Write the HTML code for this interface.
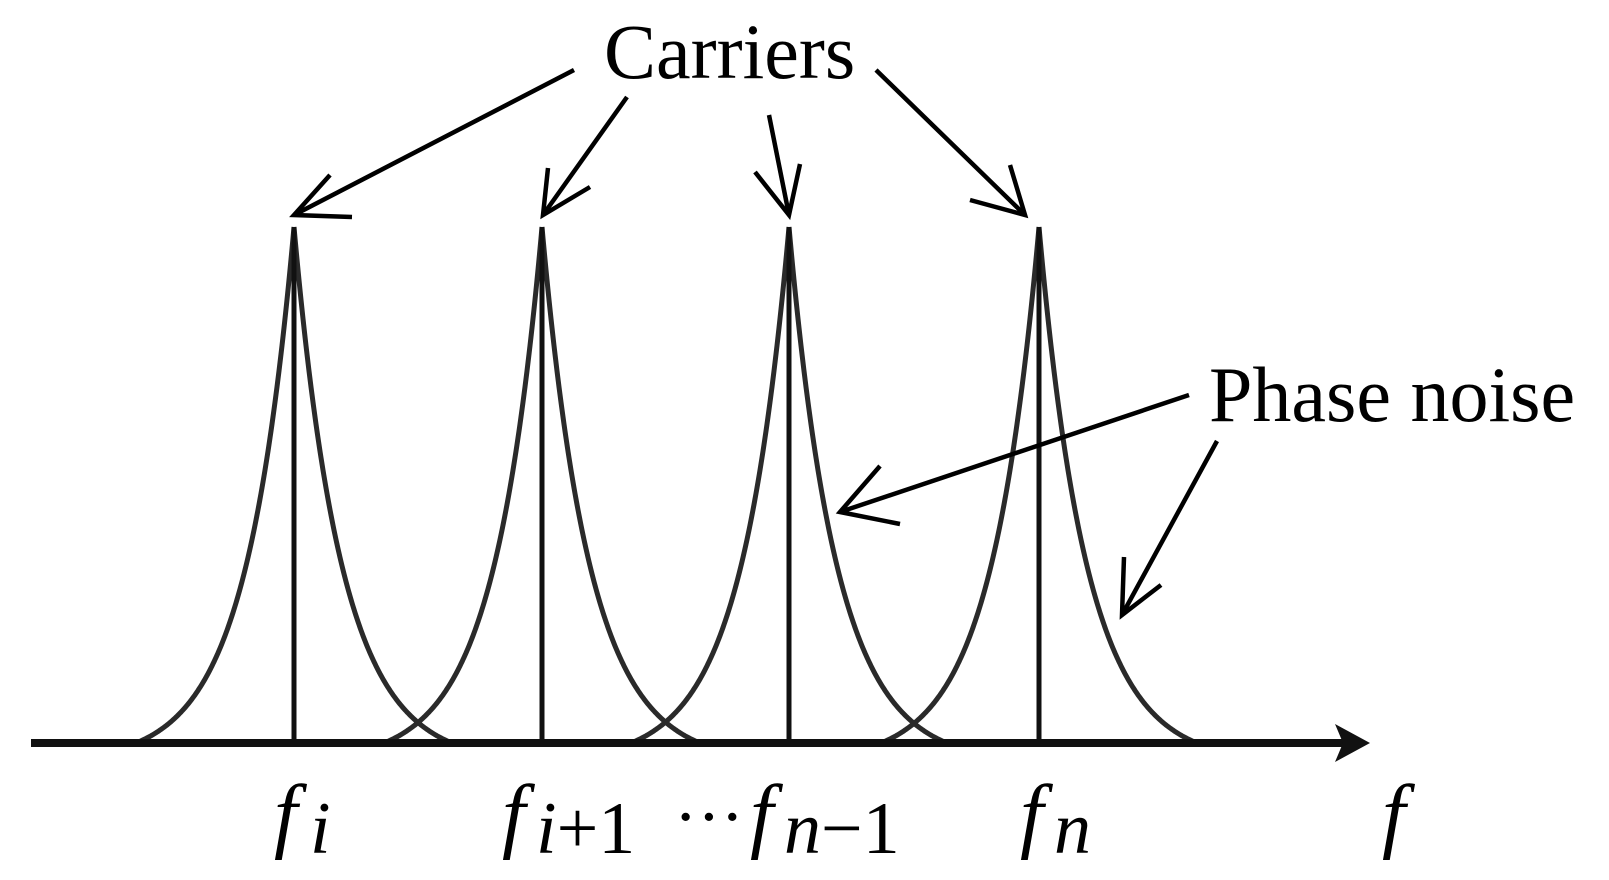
<!DOCTYPE html>
<html><head><meta charset="utf-8"><style>
html,body{margin:0;padding:0;background:#fff;}
svg{display:block}
text{font-family:"Liberation Serif",serif;fill:#000}
</style></head><body>
<svg id="s" width="1609" height="880" viewBox="0 0 1609 880" xmlns="http://www.w3.org/2000/svg">
<g id="curves" fill="none" stroke="#2a2a2a" stroke-width="5"></g>
<g stroke="#111" stroke-width="5">
<line x1="294" y1="227" x2="294" y2="743"/>
<line x1="542" y1="227" x2="542" y2="743"/>
<line x1="789" y1="227" x2="789" y2="743"/>
<line x1="1039" y1="227" x2="1039" y2="743"/>
</g>
<line x1="31" y1="743" x2="1350" y2="743" stroke="#111" stroke-width="8"/>
<polygon points="1370,743 1335,724 1343,743 1335,762" fill="#111"/>
<g stroke="#000" stroke-width="4.5" fill="none" stroke-linecap="butt">
<line x1="574" y1="70" x2="294" y2="215"/><polyline points="330,175 294,215 352,217"/>
<line x1="627" y1="97" x2="543" y2="215"/><polyline points="548,168 543,215 590,187"/>
<line x1="769" y1="115" x2="789" y2="215"/><polyline points="755,172 789,215 800,164"/>
<line x1="876" y1="70" x2="1025" y2="215"/><polyline points="970,200 1025,215 1010,165"/>
<line x1="1189" y1="395" x2="840" y2="512"/><polyline points="880,466 840,512 900,524"/>
<line x1="1217" y1="441" x2="1122" y2="615"/><polyline points="1124,557 1122,615 1161,585"/>
</g>
<text x="604" y="78" font-size="78">Carriers</text>
<text x="1209" y="421" font-size="78">Phase noise</text>
<g font-size="84">
<text x="274" y="842" font-style="italic">f</text><text x="310" y="853" font-size="74" font-style="italic">i</text>
<text x="502" y="842" font-style="italic">f</text><text x="536" y="853" font-size="74"><tspan font-style="italic">i</tspan>+1</text>
<text x="674" y="840" font-size="70">···</text>
<text x="750" y="842" font-style="italic">f</text><text x="784" y="853" font-size="74"><tspan font-style="italic">n</tspan>−1</text>
<text x="1020" y="842" font-style="italic">f</text><text x="1054" y="853" font-size="74" font-style="italic">n</text>
<text x="1382" y="842" font-style="italic">f</text>
</g>
</svg>
<script>
var g=document.getElementById('curves');
var peaks=[294,542,789,1039],c=20,H=516,A=H+c,k=48,base=743;
peaks.forEach(function(p){
 [-1,1].forEach(function(s){
  var d='';
  for(var dx=0;dx<=170;dx+=1){
   var h=A*Math.exp(-dx/k)-c; if(h<0)h=0;
   d+=(dx?'L':'M')+(p+s*dx)+','+(base-h).toFixed(1);
  }
  var e=document.createElementNS('http://www.w3.org/2000/svg','path');
  e.setAttribute('d',d);g.appendChild(e);
 });
});
</script>
</body></html>
